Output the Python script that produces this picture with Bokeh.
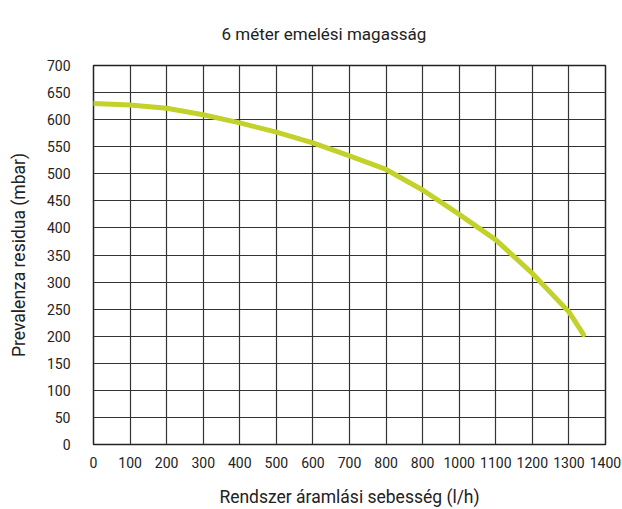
from bokeh.plotting import figure
from bokeh.models import Range1d, FixedTicker, Title
from bokeh.embed import file_html
from bokeh.resources import INLINE

flow = [0, 100, 200, 300, 400, 500, 600, 700, 800, 900, 1000, 1100, 1200, 1300, 1340]
pressure = [630, 627, 621, 609, 594, 577, 557, 533, 508, 470, 425, 378, 316, 245, 203]

x_ticks = list(range(0, 1401, 100))
x_tick_labels = ["0", "100", "200", "300", "400", "500", "600", "700", "800", "800",
                 "1000", "1100", "1200", "1300", "1400"]
y_ticks = list(range(0, 701, 50))

FONT = "Roboto"

p = figure(width=622, height=509, output_backend="svg", toolbar_location=None,
           x_range=Range1d(0, 1400), y_range=Range1d(0, 700),
           min_border_left=93, min_border_right=17, min_border_top=64, min_border_bottom=65)

p.title = Title(text="6 méter emelési magasság", align="left", offset=128,
                text_font=FONT, text_font_size="17px", text_font_style="normal",
                text_color="#222222")
p.title.standoff = 43

p.line(flow, pressure, line_color="#c3d22a", line_width=5, line_join="round", line_cap="round")

p.xaxis.ticker = FixedTicker(ticks=x_ticks)
p.xaxis.major_label_overrides = {t: l for t, l in zip(x_ticks, x_tick_labels)}
p.yaxis.ticker = FixedTicker(ticks=y_ticks)

for ax in (p.xaxis[0], p.yaxis[0]):
    ax.axis_line_color = None
    ax.major_tick_line_color = None
    ax.minor_tick_line_color = None
    ax.major_label_text_font = FONT
    ax.major_label_text_font_size = "14px"
    ax.major_label_text_color = "#222222"
    ax.axis_label_text_font = FONT
    ax.axis_label_text_font_size = "17.5px"
    ax.axis_label_text_font_style = "normal"
    ax.axis_label_text_color = "#222222"

p.xaxis.axis_label = "Rendszer áramlási sebesség (l/h)"
p.yaxis.axis_label = "Prevalenza residua (mbar)"
p.xaxis.major_label_standoff = 6
p.yaxis.major_label_standoff = 17
p.xaxis.axis_label_standoff = 16
p.yaxis.axis_label_standoff = 15

p.grid.grid_line_color = "#333333"
p.grid.grid_line_width = 1.2
p.grid.grid_line_alpha = 1
p.outline_line_color = "#222222"
p.outline_line_width = 1.5
p.background_fill_color = "white"
p.border_fill_color = "white"

open("out.html", "w").write(file_html(p, INLINE))
